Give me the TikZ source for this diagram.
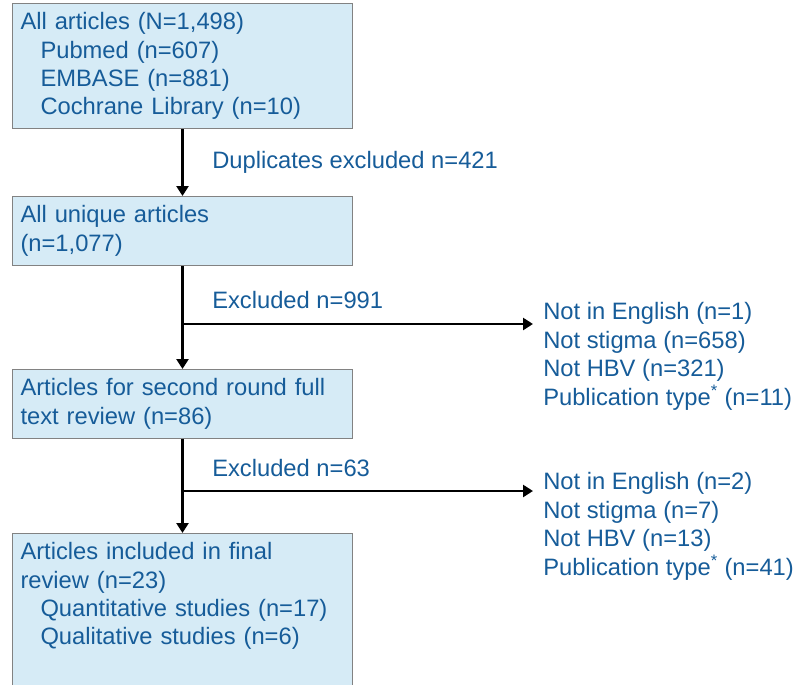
\documentclass[tikz,border=0pt]{standalone}
\usepackage{fontspec}
\setmainfont{Liberation Sans}
\usetikzlibrary{arrows.meta}
\definecolor{txtblue}{RGB}{22,92,153}
\definecolor{boxfill}{RGB}{214,235,246}
\definecolor{boxline}{RGB}{130,130,130}
\tikzset{
  stagebox/.style={draw=boxline, fill=boxfill, line width=0.75pt, anchor=north west,
    text width=243pt, minimum width=255pt, inner xsep=6pt, inner ysep=6.75pt,
    align=left, text=txtblue},
  flow/.style={line width=2.2pt, -{Triangle[width=9pt,length=7.5pt]}},
  note/.style={anchor=base west, inner sep=0pt, align=left, text=txtblue}
}
\newcommand{\ind}{\hspace*{15pt}}
\begin{document}
\begin{tikzpicture}[x=0.75pt,y=-0.75pt]
\fontsize{17.8}{21.3}\selectfont
\useasboundingbox (0,0) rectangle (796,685);
\node [stagebox, minimum height=93.75pt] (all) at (12,3){All articles (N=1,498)\\
  \ind Pubmed (n=607)\\ \ind EMBASE (n=881)\\ \ind Cochrane Library (n=10)};
\node [stagebox, minimum height=51.75pt] (unique) at (12,196){All unique articles\\ (n=1,077)};
\node [stagebox, minimum height=51pt] (second) at (12,369){Articles for second round full\\ text review (n=86)};
\node [stagebox] (final) at (12,533){\parbox[c][104pt][t]{243pt}{Articles included in final\\
  review (n=23)\\ \ind Quantitative studies (n=17)\\ \ind Qualitative studies (n=6)}};
% labels on the main line
\node [note] (dup) at (212,168){Duplicates excluded n=421};
\node [note] (exc1) at (212,308){Excluded n=991};
\node [note] (exc2) at (212,476){Excluded n=63};
% reasons for exclusion (base = last line)
\node [note] (why1) at (543,405){Not in English (n=1)\\ Not stigma (n=658)\\ Not HBV (n=321)\\
  Publication type\textsuperscript{*} (n=11)};
\node [note] (why2) at (543,575){Not in English (n=2)\\ Not stigma (n=7)\\ Not HBV (n=13)\\
  Publication type\textsuperscript{*} (n=41)};
\coordinate (split1) at (all.south |- 0,324);
\coordinate (split2) at (all.south |- 0,491);
\coordinate (end1) at (533,324);
\coordinate (end2) at (533,491);
\draw [flow] (all.south) -- (unique.north);
\draw [flow] (unique.south) -- (second.north);
\draw [flow] (second.south) -- (final.north);
\draw [flow] (split1) -- (end1);
\draw [flow] (split2) -- (end2);
\end{tikzpicture}
\end{document}
